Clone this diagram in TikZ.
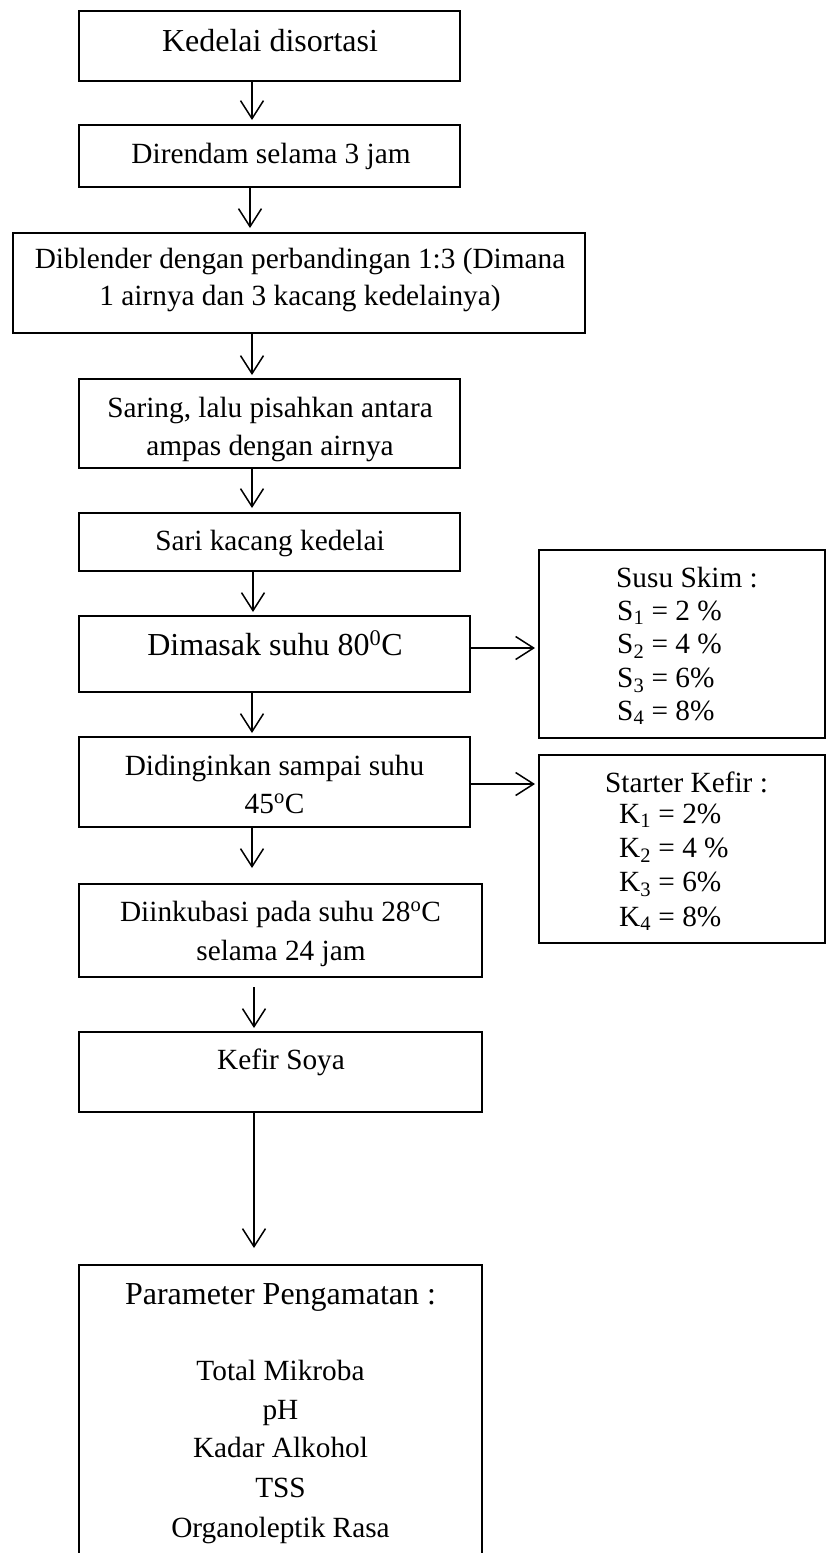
\documentclass[tikz,border=0pt]{standalone}
\usepackage{fontspec}
\setmainfont{Liberation Serif}
\usetikzlibrary{arrows.meta,calc}
\begin{document}
\begin{tikzpicture}[x=1pt,y=-1pt,
  box/.style={draw, line width=1.5pt, inner sep=0pt, outer sep=0pt, anchor=north west},
  txt/.style={inner sep=0pt, anchor=base, font=\fontsize{29.3}{36}\selectfont},
  big/.style={inner sep=0pt, anchor=base, font=\fontsize{32}{38}\selectfont},
  ltxt/.style={inner sep=0pt, anchor=base west, font=\fontsize{29.3}{36}\selectfont},
  arr/.style={line width=1.5pt, -{Straight Barb[length=18pt,width=23pt]}}]
\useasboundingbox (0,0) rectangle (826,1553);
\clip (0,0) rectangle (826,1553);
% boxes
\node[box, minimum width=381pt, minimum height=70pt] (b1) at (79,11) {};
\node[box, minimum width=381pt, minimum height=62pt] (b2) at (79,125) {};
\node[box, minimum width=572pt, minimum height=100pt] (b3) at (13,233) {};
\node[box, minimum width=381pt, minimum height=89pt] (b4) at (79,379) {};
\node[box, minimum width=381pt, minimum height=58pt] (b5) at (79,513) {};
\node[box, minimum width=391pt, minimum height=76pt] (b6) at (79,616) {};
\node[box, minimum width=391pt, minimum height=90pt] (b7) at (79,737) {};
\node[box, minimum width=403pt, minimum height=93pt] (b8) at (79,884) {};
\node[box, minimum width=403pt, minimum height=80pt] (b9) at (79,1032) {};
\node[box, minimum width=403pt, minimum height=320pt] (b10) at (79,1265) {};
\node[box, minimum width=286pt, minimum height=188pt] (s1) at (539,550) {};
\node[box, minimum width=286pt, minimum height=188pt] (s2) at (539,755) {};
% texts
\node[big] (t1) at (270,51) {Kedelai disortasi};
\node[txt] (t2) at (271,163) {Direndam selama 3 jam};
\node[txt] (t3a) at (300,268) {Diblender dengan perbandingan 1:3 (Dimana};
\node[txt] (t3b) at (300,305) {1 airnya dan 3 kacang kedelainya)};
\node[txt] (t4a) at (270,417) {Saring, lalu pisahkan antara};
\node[txt] (t4b) at (270,455) {ampas dengan airnya};
\node[txt] (t5) at (270,550) {Sari kacang kedelai};
\node[big] (t6) at (275,655) {Dimasak suhu 80\textsuperscript{0}C};
\node[txt] (t7a) at (274.5,775) {Didinginkan sampai suhu};
\node[txt] (t7b) at (274.5,813) {45\textsuperscript{o}C};
\node[txt] (t8a) at (280.5,921) {Diinkubasi pada suhu 28\textsuperscript{o}C};
\node[txt] (t8b) at (281,960) {selama 24 jam};
\node[txt] (t9) at (281,1069) {Kefir Soya};
\node[big] (t10) at (280.5,1304) {Parameter Pengamatan :};
\node[txt] (p1) at (280.5,1380) {Total Mikroba};
\node[txt] (p2) at (280.5,1419) {pH};
\node[txt] (p3) at (280.5,1457) {Kadar Alkohol};
\node[txt] (p4) at (280.5,1497) {TSS};
\node[txt] (p5) at (280.5,1537) {Organoleptik Rasa};
\node[ltxt] (u0) at (616,587) {Susu Skim :};
\node[ltxt] (u1) at (617,620) {S\textsubscript{1} = 2 \%};
\node[ltxt] (u2) at (617,653) {S\textsubscript{2} = 4 \%};
\node[ltxt] (u3) at (617,687) {S\textsubscript{3} = 6\%};
\node[ltxt] (u4) at (617,720) {S\textsubscript{4} = 8\%};
\node[ltxt] (k0) at (605,792) {Starter Kefir :};
\node[ltxt] (k1) at (619,823) {K\textsubscript{1} = 2\%};
\node[ltxt] (k2) at (619,857) {K\textsubscript{2} = 4 \%};
\node[ltxt] (k3) at (619,891) {K\textsubscript{3} = 6\%};
\node[ltxt] (k4) at (619,926) {K\textsubscript{4} = 8\%};
% arrow end points
\coordinate (e1) at (252,120);
\coordinate (e2) at (250,228);
\coordinate (e3) at (252,375);
\coordinate (e4) at (252,508);
\coordinate (e5) at (253,612);
\coordinate (e6) at (252,733);
\coordinate (e7) at (252,868);
\coordinate (e8) at (254,1028);
\coordinate (e9) at (254,1248);
\coordinate (e10) at (535,648);
\coordinate (e11) at (535,784);
% arrows
\draw[arr] (b1.south -| e1) -- (e1);
\draw[arr] (b2.south -| e2) -- (e2);
\draw[arr] (b3.south -| e3) -- (e3);
\draw[arr] (b4.south -| e4) -- (e4);
\draw[arr] (b5.south -| e5) -- (e5);
\draw[arr] (b6.south -| e6) -- (e6);
\draw[arr] (b7.south -| e7) -- (e7);
\draw[arr] ($(b8.south -| e8)+(0,10)$) -- (e8);
\draw[arr] (b9.south -| e9) -- (e9);
\draw[arr] (b6.east |- e10) -- (e10);
\draw[arr] (b7.east |- e11) -- (e11);
\end{tikzpicture}
\end{document}
